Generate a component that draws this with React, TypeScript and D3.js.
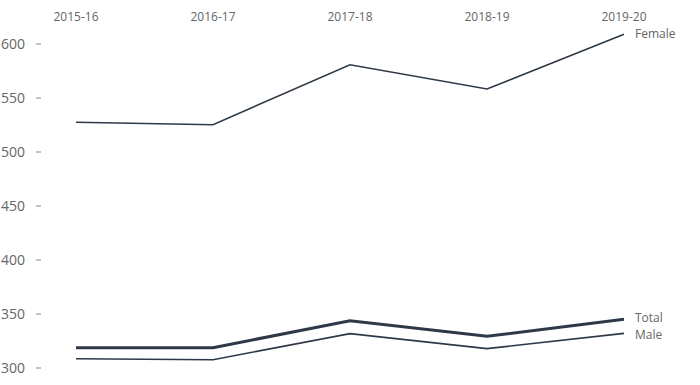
import React from 'react';
import * as d3 from 'd3';

const years = ['2015-16', '2016-17', '2017-18', '2018-19', '2019-20'];
const female = [527.5, 525.3, 580.8, 558.3, 609];
const total = [318.8, 318.8, 343.8, 329.3, 345.1];
const male = [308.6, 307.7, 331.8, 317.9, 332.1];
const yTicks = [300, 350, 400, 450, 500, 550, 600];

const W = 700;
const H = 385;
const lineColor = '#2e3948';
const textColor = '#666';
const font = '"Open Sans", sans-serif';

export default function App() {
  // Scales
  const x = d3.scalePoint<string>().domain(years).range([76, 624]);
  const y = d3.scaleLinear().domain([300, 600]).range([368, 44]);

  const line = d3.line<number>()
    .x((_, i) => x(years[i]) as number)
    .y(d => y(d));

  const series = [
    { name: 'Female', values: female, width: 1.6, dy: 0 },
    { name: 'Total', values: total, width: 3, dy: -1 },
    { name: 'Male', values: male, width: 1.6, dy: 1 },
  ];

  return (
    <svg width={W} height={H} style={{ position: 'absolute', left: 0, top: 0, background: '#fff' }}>
      {/* y axis */}
      {yTicks.map(t => (
        <g key={t} transform={`translate(0,${y(t)})`}>
          <text x={25} dy="0.35em" textAnchor="end" fontSize={14} fill={textColor} fontFamily={font}>{t}</text>
          <line x1={36} x2={41} stroke="#888" strokeWidth={1} />
        </g>
      ))}
      {/* x labels on top */}
      {years.map(yr => (
        <text key={yr} x={x(yr)} y={17} dy="0.35em" textAnchor="middle" fontSize={12} fill={textColor} fontFamily={font}>{yr}</text>
      ))}
      {/* lines */}
      {series.map(s => (
        <path key={s.name} d={line(s.values) || ''} fill="none" stroke={lineColor} strokeWidth={s.width} strokeLinejoin="miter" />
      ))}
      {/* end labels */}
      {series.map(s => (
        <text key={s.name + '-lbl'} x={(x(years[years.length - 1]) as number) + 11}
          y={y(s.values[s.values.length - 1]) + s.dy} dy="0.35em" fontSize={12} fill={textColor} fontFamily={font}>{s.name}</text>
      ))}
    </svg>
  );
}
